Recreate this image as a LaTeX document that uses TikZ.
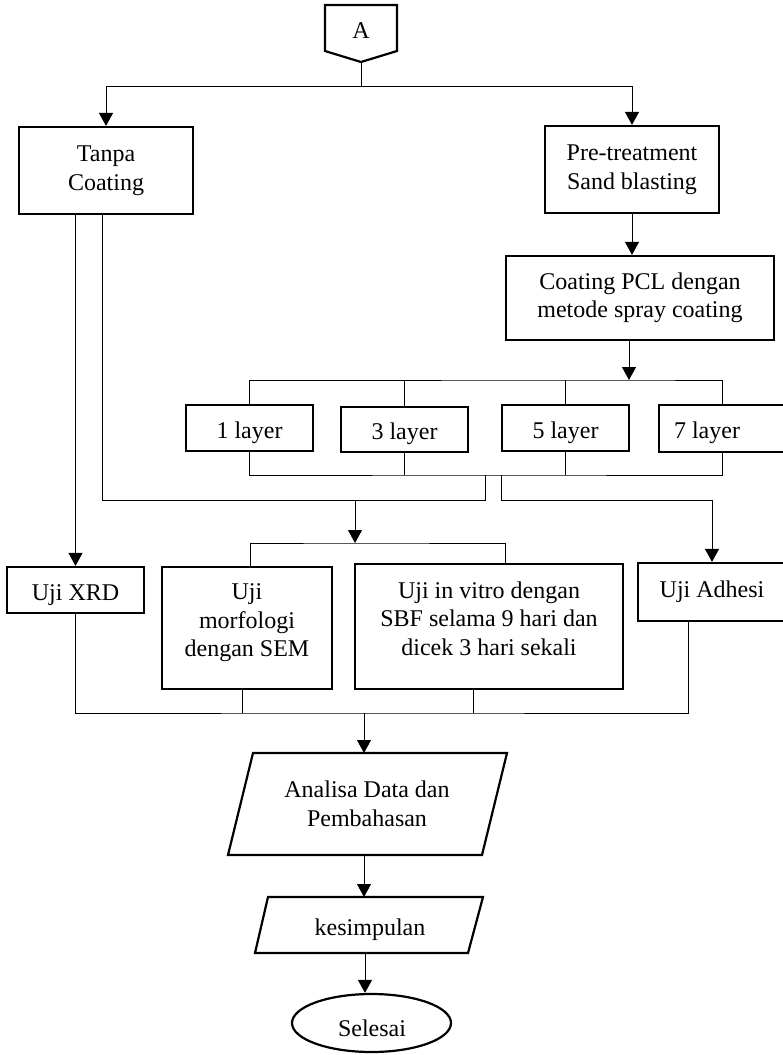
\documentclass[tikz,border=0pt]{standalone}
\usepackage{fontspec}
\setmainfont{Liberation Serif}
\usetikzlibrary{arrows.meta,shapes.geometric,calc}
\tikzset{
  box/.style={draw, line width=2.2pt, inner sep=0pt, align=center},
  one/.style={text height=20pt, text depth=0pt},
  txt/.style={inner sep=0pt, align=center},
  conn/.style={line width=1pt},
  arr/.style={line width=1pt, -{Triangle[length=13pt,width=14pt]}},
  shapeline/.style={line width=2.2pt, line join=miter},
}
\begin{document}
\begin{tikzpicture}[x=1pt,y=-1pt,font=\fontsize{24}{28.5}\selectfont]
\path[use as bounding box] (0,0) rectangle (783,1055);
\clip (0,0) rectangle (783,1055);

% off-page connector A
\draw[shapeline] (325,5) -- (397,5) -- (397,51) -- (361,62) -- (325,51) -- cycle;
\node[txt, anchor=base] (A) at (361,38) {A};
\coordinate (Atip) at (361,62);

% boxes
\node[box, minimum width=174, minimum height=87] (Tanpa) at (106,170.5) {Tanpa\\Coating};
\node[box, minimum width=174, minimum height=87] (Pre) at (632,169.5) {Pre-treatment\\Sand blasting};
\node[box, minimum width=268, minimum height=84] (Coat) at (640,298) {Coating PCL dengan\\metode spray coating};

\node[box, one, minimum width=127, minimum height=46] (L1) at (249.5,428) {1 layer};
\node[box, one, minimum width=127, minimum height=45] (L3) at (404.5,429.5) {3 layer};
\node[box, one, minimum width=127, minimum height=46] (L5) at (565.5,428) {5 layer};
\node[box, minimum width=127, minimum height=47] (L7) at (722.5,428.5) {};
\node[txt, anchor=base] (L7t) at (707,438) {7 layer};

\node[box, one, minimum width=137, minimum height=46] (XRD) at (75.5,590) {Uji XRD};
\node[box, minimum width=170, minimum height=122] (SEM) at (247,628) {};
\node[txt] (SEMt) at (247,623) {Uji\\morfologi\\dengan SEM};
\node[box, minimum width=268, minimum height=125] (Vitro) at (489,626.5) {};
\node[txt] (Vitrot) at (489,618.5) {Uji in vitro dengan\\SBF selama 9 hari dan\\dicek 3 hari sekali};
\node[box, minimum width=148, minimum height=58] (Adhesi) at (712,592) {};
\node[txt, anchor=base] (Adhesit) at (712,597) {Uji Adhesi};

% parallelograms
\draw[shapeline] (253,753) -- (507,753) -- (482,855) -- (228,855) -- cycle;
\node[txt] (Ana) at (367,804) {Analisa Data dan\\Pembahasan};
\coordinate (anaT) at (364,753);
\coordinate (anaB) at (364,855);

\draw[shapeline] (268,897) -- (483,897) -- (468,953) -- (255,953) -- cycle;
\node[txt, anchor=base] (Kes) at (370,935) {kesimpulan};
\coordinate (kesT) at (364,897);
\coordinate (kesB) at (365,953);

\node[draw, line width=2.2pt, ellipse, inner sep=0pt, minimum width=159, minimum height=58] (Sel) at (371.5,1023) {};
\node[txt, anchor=base] (Selt) at (372,1036) {Selesai};

% connectors: top
\coordinate (busA) at (361,86);
\draw[conn] (Atip) -- (busA);
\draw[arr] (busA) -| (Tanpa.north);
\draw[arr] (busA) -| (Pre.north);
\draw[arr] (Pre.south) -- (Pre.south |- Coat.north);

% layers
\coordinate (busL) at (629,380);
\draw[conn] (L1.north) |- (busL) -| (L7.north);
\draw[conn] (L3.north) -- (L3.north |- busL);
\draw[conn] (L5.north) -- (L5.north |- busL);
\draw[arr] (busL |- Coat.south) -- (busL);

\coordinate (busB) at (493,475);
\draw[conn] (L1.south) |- (busB) -| (L7.south);
\draw[conn] (L3.south) -- (L3.south |- busB);
\draw[conn] (L5.south) -- (L5.south |- busB);

% from Tanpa Coating
\draw[arr] (Tanpa.south -| XRD.north) -- (XRD.north);
\coordinate (tan2) at (102,214);
\coordinate (jL) at (485,500);
\draw[conn] (jL |- busB) -- (jL) -| (tan2);

% to SEM / in vitro
\coordinate (busS) at (355,543);
\coordinate (stop) at (250,566);
\coordinate (vtop) at (505,563);
\draw[conn] (stop) |- (busS) -| (vtop);
\draw[arr] (busS |- jL) -- (busS);

% to Adhesi
\coordinate (jR) at (501,500);
\draw[conn] (jR |- busB) -- (jR);
\draw[arr] (jR) -| (Adhesi.north);

% bottom collection
\coordinate (busE) at (364,713);
\coordinate (adhB) at (688,621);
\coordinate (semB) at (242,689);
\coordinate (vitB) at (473,689);
\draw[conn] (XRD.south) |- (busE) -| (adhB);
\draw[conn] (semB) -- (semB |- busE);
\draw[conn] (vitB) -- (vitB |- busE);
\draw[arr] (busE) -- (anaT);
\draw[arr] (anaB) -- (kesT);
\draw[arr] (kesB) -- (kesB |- Sel.north);
\end{tikzpicture}
\end{document}
